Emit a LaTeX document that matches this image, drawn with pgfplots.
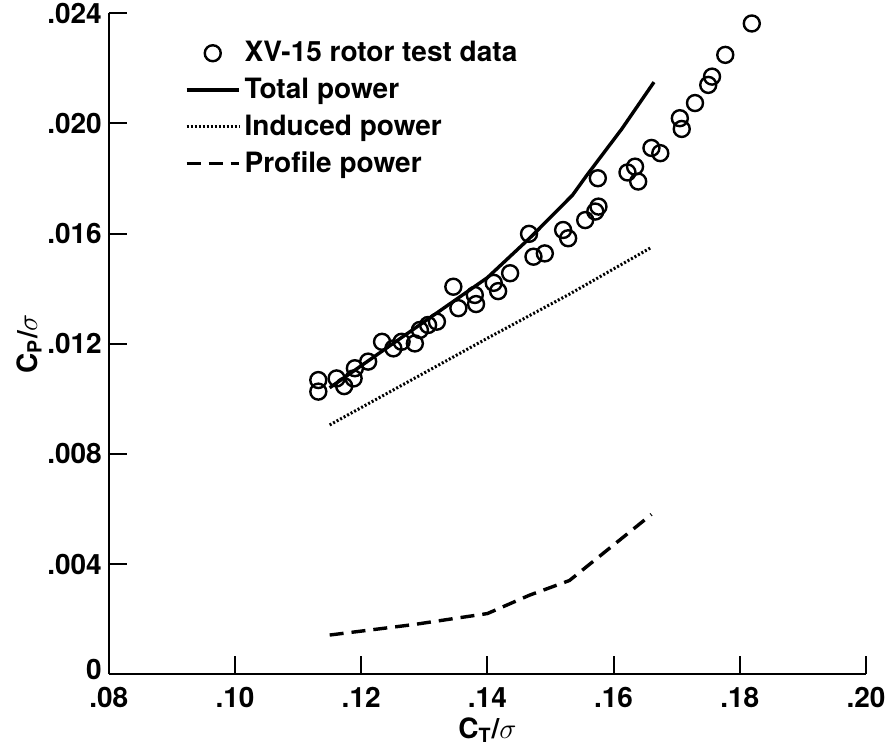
\documentclass[border=0pt]{standalone}
\usepackage{pgfplots}
\pgfplotsset{compat=1.18}
\usepackage{fontspec}
\setmainfont{TeX Gyre Heros}

\begin{document}
\begin{tikzpicture}
\begin{axis}[
  scale only axis, width=378.5pt, height=330.35pt,
  xmin=0.08, xmax=0.20, ymin=0, ymax=0.024,
  axis x line*=bottom, axis y line*=left,
  axis line style={line width=1.2pt},
  xtick={0.08,0.10,0.12,0.14,0.16,0.18,0.20},
  xticklabels={.08,.10,.12,.14,.16,.18,.20},
  ytick={0,0.004,0.008,0.012,0.016,0.020,0.024},
  yticklabels={\raisebox{5pt}{0},.004,.008,.012,.016,.020,.024},
  scaled ticks=false,
  tick align=inside, major tick length=9pt,
  tick style={line width=1pt, black},
  ticklabel style={font=\fontsize{14}{16}\selectfont\bfseries},
  xticklabel style={yshift=-3pt},
  label style={font=\fontsize{14}{16}\selectfont\bfseries},
  xlabel={C\textsubscript{T}/$\sigma$},
  ylabel={C\textsubscript{P}/$\sigma$},
  xlabel style={yshift=2pt},
  ylabel style={yshift=-4pt},
  legend cell align=left,
  legend style={at={(axis description cs:0.092,0.97)}, anchor=north west,
    draw=none, fill=none, font=\fontsize{14}{16}\selectfont\bfseries,
    row sep=2.6pt},
  legend image code/.code={\draw[mark repeat=2,mark phase=2,#1]
    plot coordinates {(0cm,0cm) (0.46cm,0cm) (0.92cm,0cm)};},
]
\addplot[only marks, mark=o, mark size=4pt, mark options={line width=1.2pt}] coordinates {
(0.1132,0.01068) (0.1132,0.01026) (0.1161,0.01074) (0.1173,0.01046)
(0.1188,0.01074) (0.1190,0.01111) (0.1211,0.01135) (0.1233,0.01207)
(0.1251,0.01183) (0.1264,0.01207) (0.1285,0.01201) (0.1293,0.01250)
(0.1306,0.01268) (0.1320,0.01280) (0.1346,0.01407) (0.1354,0.01329)
(0.1380,0.01377) (0.1382,0.01344) (0.1410,0.01421) (0.1417,0.01391)
(0.1436,0.01456) (0.1466,0.01599) (0.1473,0.01516) (0.1491,0.01528)
(0.1520,0.01613) (0.1528,0.01583) (0.1555,0.01649) (0.1571,0.01680)
(0.1576,0.01698) (0.1575,0.01801) (0.1622,0.01822) (0.1634,0.01843)
(0.1639,0.01789) (0.1660,0.01911) (0.1674,0.01892) (0.1705,0.02019)
(0.1708,0.01980) (0.1729,0.02074) (0.1750,0.02140) (0.1756,0.02170)
(0.1777,0.02249) (0.1819,0.02363)
};
\addlegendentry{XV-15 rotor test data}
\addplot[black, line width=1.7pt] coordinates {
(0.115,0.0104) (0.125,0.0120) (0.135,0.0136) (0.140,0.0144)
(0.147,0.0159) (0.1535,0.0174) (0.1557,0.0181) (0.1613,0.0198) (0.1664,0.0215)
};
\addlegendentry{Total power}
\addplot[black, line width=1.5pt, dash pattern=on 1pt off 1pt] coordinates {
(0.115,0.00905) (0.140,0.0122) (0.153,0.0138) (0.166,0.0155)
};
\addlegendentry{Induced power}
\addplot[black, line width=1.7pt, dash pattern=on 7pt off 4pt] coordinates {
(0.115,0.00142) (0.1283,0.0018) (0.140,0.0022) (0.1467,0.00287) (0.153,0.0034) (0.166,0.0058)
};
\addlegendentry{Profile power}
\end{axis}
\pgfresetboundingbox
\path (current axis.south west) ++(-54.4pt,-39.5pt) rectangle ([shift={(12.5pt,6.65pt)}]current axis.north east);
\end{tikzpicture}
\end{document}
